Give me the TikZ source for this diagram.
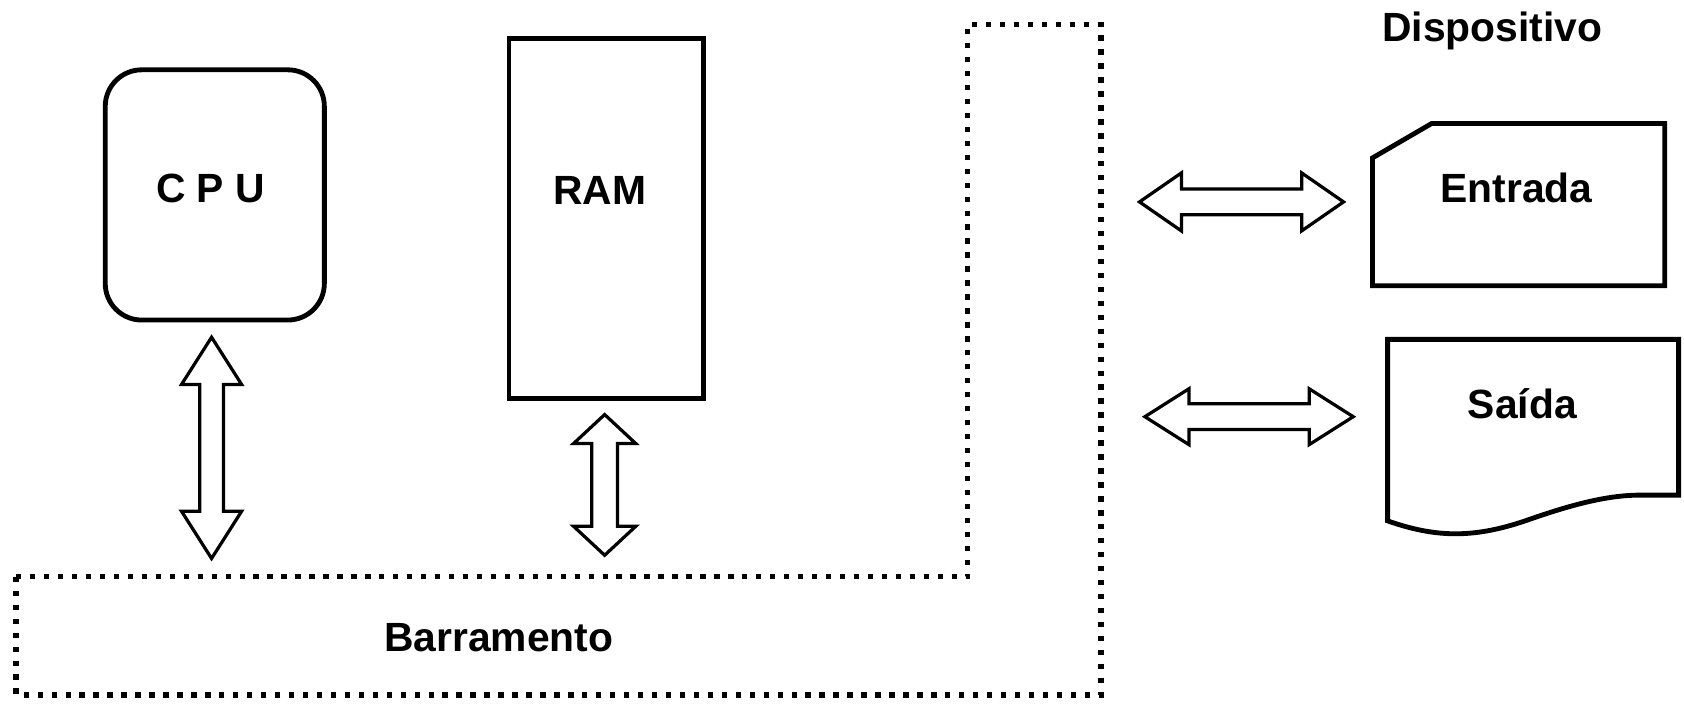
\documentclass[tikz,border=0pt]{standalone}
\usepackage{fontspec}
\setmainfont{Liberation Sans}
\usetikzlibrary{calc}

% Hollow double-headed block arrow between two named points:
% #1 start, #2 end, #3 head length, #4 head half-width, #5 shaft half-width
\newcommand\blockarrow[5]{%
  \draw[arrowline] (#1)
    -- ($(#1)!#3!(#2)!#4!90:(#2)$)
    -- ($(#1)!#3!(#2)!#5!90:(#2)$)
    -- ($(#2)!#3!(#1)!#5!-90:(#1)$)
    -- ($(#2)!#3!(#1)!#4!-90:(#1)$)
    -- (#2)
    -- ($(#2)!#3!(#1)!#4!90:(#1)$)
    -- ($(#2)!#3!(#1)!#5!90:(#1)$)
    -- ($(#1)!#3!(#2)!#5!-90:(#2)$)
    -- ($(#1)!#3!(#2)!#4!-90:(#2)$)
    -- cycle;}

\begin{document}
\begin{tikzpicture}[x=1pt,y=-1pt,
  box/.style={draw=black, line width=4.5pt, line join=miter},
  ghost/.style={inner sep=0pt, outer sep=0pt},
  lbl/.style={font=\fontsize{38}{40}\selectfont\bfseries, text=black, inner sep=0pt, anchor=base},
  busline/.style={draw=black, line width=5pt, dash pattern=on 5pt off 8pt},
  arrowline/.style={draw=black, fill=white, line width=3pt, line join=miter}]

  \useasboundingbox (0,0) rectangle (1568,656);
  \fill[white] (0,0) rectangle (1568,656);

  % processor and memory
  \node[box, ghost, rounded corners=34pt, minimum width=204pt, minimum height=233pt] (cpu) at (200,181.5) {};
  \node[lbl] (cputxt) at (196,189) {C P U};
  \node[box, ghost, minimum width=181pt, minimum height=335pt] (ram) at (564.5,203.5) {};
  \node[lbl] (ramtxt) at (558.5,190) {RAM};

  % system bus outline (L shape)
  \coordinate (busBL) at (15,647);
  \coordinate (busTL) at (15,537);
  \coordinate (busIn) at (901,537);
  \coordinate (busTop) at (901,23);
  \coordinate (busTR) at (1025,23);
  \coordinate (busBR) at (1025,647);
  \draw[busline] (busTL) -- (busIn) -- (busTop) -- (busTR) -- (busBR) -- (busBL) -- cycle;
  \node[lbl] (bustxt) at (464.5,607) {Barramento};

  % devices
  \node[lbl, anchor=base west] (devtxt) at (1287,39) {Dispositivo};

  \node[ghost, minimum width=272pt, minimum height=151pt] (entrada) at (1414,190.5) {};
  \draw[box] ($(entrada.north west)+(0,32)$) -- ($(entrada.north west)+(55,0)$)
    -- (entrada.north east) -- (entrada.south east) -- (entrada.south west) -- cycle;
  \node[lbl] (entradatxt) at (1412,189) {Entrada};

  \node[ghost, minimum width=271pt, minimum height=181pt] (saida) at (1427.5,406.5) {};
  \begin{scope}[shift={(saida.north west)}]
    \draw[box] (0,0) -- (271,0) -- (271,145) -- (235,145)
      .. controls (203,145) and (168,155) .. (128,169)
      .. controls (78,186) and (43,184) .. (0,169) -- cycle;
  \end{scope}
  \node[lbl] (saidatxt) at (1417.5,390) {Saída};

  % transfer arrows
  \coordinate (cpuA) at (197,314);
  \coordinate (cpuB) at (197,520);
  \blockarrow{cpuA}{cpuB}{44pt}{28pt}{11pt}

  \coordinate (ramA) at (563,386);
  \coordinate (ramB) at (563,517);
  \blockarrow{ramA}{ramB}{27pt}{29pt}{12pt}

  \coordinate (inA) at (1061,188);
  \coordinate (inB) at (1251,188);
  \blockarrow{inA}{inB}{39pt}{27pt}{12pt}

  \coordinate (outA) at (1066,388);
  \coordinate (outB) at (1260,388);
  \blockarrow{outA}{outB}{41pt}{26pt}{12pt}
\end{tikzpicture}
\end{document}
